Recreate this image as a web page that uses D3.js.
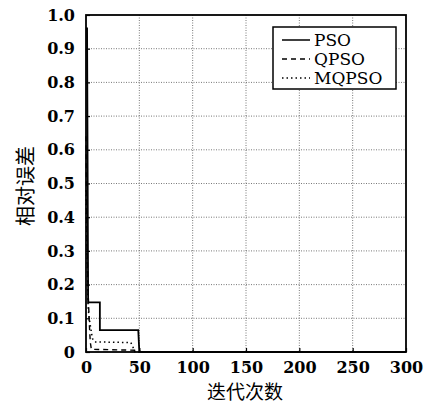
<!DOCTYPE html>
<html><head><meta charset="utf-8">
<script src="https://cdn.jsdelivr.net/npm/d3@7"></script>
<style>body{margin:0;background:#fff}svg{display:block}
.serif{font-family:"DejaVu Serif",serif;}
.cjk{font-family:"Noto Sans CJK SC","Noto Sans CJK JP",sans-serif;}
</style>
</head><body>
<script>
const xTicks = [0, 50, 100, 150, 200, 250, 300];
const yTicks = [0, 0.1, 0.2, 0.3, 0.4, 0.5, 0.6, 0.7, 0.8, 0.9, 1.0];
const yTickLabels = ["0","0.1","0.2","0.3","0.4","0.5","0.6","0.7","0.8","0.9","1.0"];
const seriesNames = ["PSO", "QPSO", "MQPSO"];
const psoIter = [0, 1, 2, 13, 13, 49, 50, 300];
const psoVal  = [0.96, 0.96, 0.147, 0.147, 0.065, 0.065, 0, 0];
const qpsoIter = [0, 1, 2, 3, 4, 5, 50, 51, 300];
const qpsoVal  = [0.64, 0.32, 0.18, 0.09, 0.03, 0.008, 0.005, 0, 0];
const mqpsoIter = [0, 1, 2, 3, 4, 5, 6, 8, 42, 44, 46, 300];
const mqpsoVal  = [0.48, 0.28, 0.13, 0.1, 0.08, 0.06, 0.04, 0.03, 0.028, 0.015, 0, 0];
const xLabel = "迭代次数";
const yLabel = "相对误差";

const W = 424, H = 403;
const m = {l: 86, r: 406, t: 15, b: 352};
const svg = d3.select("body").append("svg").attr("width", W).attr("height", H);
const x = d3.scaleLinear().domain([0, 300]).range([m.l, m.r]);
const y = d3.scaleLinear().domain([0, 1]).range([m.b, m.t]);

// grid
const g = svg.append("g");
g.selectAll(".gx").data(xTicks.slice(1, -1)).join("line")
  .attr("x1", d => x(d)).attr("x2", d => x(d)).attr("y1", m.t).attr("y2", m.b)
  .attr("stroke", "#555").attr("stroke-width", 0.8).attr("stroke-dasharray", "1,1.5");
g.selectAll(".gy").data(yTicks.slice(1, -1)).join("line")
  .attr("y1", d => y(d)).attr("y2", d => y(d)).attr("x1", m.l).attr("x2", m.r)
  .attr("stroke", "#555").attr("stroke-width", 0.8).attr("stroke-dasharray", "1,1.5");

// axes
const xAxis = d3.axisBottom(x).tickValues(xTicks).tickSize(-4).tickPadding(10).tickFormat(d3.format("d"));
const yAxis = d3.axisLeft(y).tickValues(yTicks).tickSize(-4).tickPadding(11).tickFormat((d, i) => yTickLabels[i]);
const gx = svg.append("g").attr("transform", `translate(0,${m.b})`).call(xAxis);
const gy = svg.append("g").attr("transform", `translate(${m.l},0)`).call(yAxis);
[gx, gy].forEach(a => {
  a.attr("font-family", null).attr("font-size", null);
  a.select(".domain").remove();
  a.selectAll(".tick line").attr("stroke", "#000").attr("stroke-width", 1.2);
  a.selectAll("text").attr("class", "serif").attr("font-size", 16).attr("font-weight", "bold").attr("fill", "#000");
});

// lines
const line = d3.line().x(d => x(d[0])).y(d => y(d[1]));
const zip = (a, b) => a.map((v, i) => [v, b[i]]);
const series = [
  {name: seriesNames[0], data: zip(psoIter, psoVal), dash: null, w: 1.8},
  {name: seriesNames[1], data: zip(qpsoIter, qpsoVal), dash: "5,4", w: 1.4},
  {name: seriesNames[2], data: zip(mqpsoIter, mqpsoVal), dash: "1.5,3", w: 1.5}
];
svg.append("g").selectAll("path").data(series).join("path")
  .attr("d", d => line(d.data)).attr("fill", "none").attr("stroke", "#000")
  .attr("stroke-width", d => d.w).attr("stroke-dasharray", d => d.dash);

// frame
svg.append("rect").attr("x", m.l).attr("y", m.t).attr("width", m.r - m.l).attr("height", m.b - m.t)
  .attr("fill", "none").attr("stroke", "#000").attr("stroke-width", 1.8);

// legend
const lg = svg.append("g");
lg.append("rect").attr("x", 273).attr("y", 27).attr("width", 123).attr("height", 62)
  .attr("fill", "#fff").attr("stroke", "#000").attr("stroke-width", 1.5);
series.forEach((s, i) => {
  const yy = 40 + i * 19;
  lg.append("line").attr("x1", 282).attr("x2", 310).attr("y1", yy).attr("y2", yy)
    .attr("stroke", "#000").attr("stroke-width", 1.5).attr("stroke-dasharray", s.dash);
  lg.append("text").attr("x", 314).attr("y", yy).attr("dy", "0.35em").attr("class", "serif")
    .attr("font-size", 17).text(s.name);
});

// labels
svg.append("text").attr("x", 245).attr("y", 392).attr("dy", "0.35em").attr("text-anchor", "middle")
  .attr("class", "cjk").attr("font-size", 19).text(xLabel);
svg.append("text").attr("transform", "translate(26,186) rotate(-90)").attr("dy", "0.35em")
  .attr("text-anchor", "middle").attr("class", "cjk").attr("font-size", 20).text(yLabel);
</script>
</body></html>
